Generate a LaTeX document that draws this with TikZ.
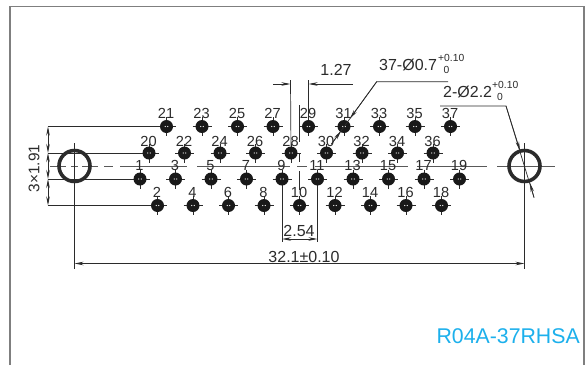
\documentclass[tikz,border=0pt]{standalone}
\usepackage{fontspec}
\setmainfont{Liberation Sans}
\usetikzlibrary{arrows.meta}
\definecolor{ink}{HTML}{2B2B2B}
\definecolor{framegray}{HTML}{7F7F7F}
\definecolor{cyanlabel}{HTML}{1CB0EC}
\tikzset{
  pinhole/.style={circle,fill=black!90,inner sep=0pt,minimum size=13pt},
  pintick/.style={draw=ink,line width=0.6pt},
  pindot/.style={fill=white,draw=none},
  pinnum/.style={text=ink,font=\fontsize{14.6}{15}\selectfont,inner sep=0pt},
  dimtext/.style={text=ink,font=\fontsize{16}{16}\selectfont,inner sep=0pt},
  tol/.style={text=ink,font=\fontsize{10.3}{11}\selectfont,inner sep=0pt},
  dimline/.style={draw=ink,line width=0.7pt},
  centerline/.style={draw=black!65,line width=0.8pt},
  tip/.style={-{Stealth[length=9pt,width=3.5pt]}},
  twotip/.style={{Stealth[length=9pt,width=3.5pt]}-{Stealth[length=9pt,width=3.5pt]}},
  mounthole/.style={circle,draw=ink,line width=3.6pt,inner sep=0pt,minimum size=31pt},
}
\newcommand{\pinrow}[3]{%
  \foreach \n/\xx in {#1}{%
    \draw[pintick] (\xx-9.5,#2) -- (\xx+9.5,#2) (\xx,#2-9.5) -- (\xx,#2+9.5);
    \node[pinhole] (p\n) at (\xx,#2) {};
    \fill[pindot] (\xx-1.3,#2) circle (0.6);
    \fill[pindot] (\xx+1.3,#2) circle (0.6);
    \node[pinnum] (t\n) at (\xx-0.5,#2-#3) {\n};
  }%
}
\begin{document}
\begin{tikzpicture}[x=1pt,y=-1pt]
\useasboundingbox (0,0) rectangle (588,365);
\fill[white] (0,0) rectangle (588,365);
% frame
\draw[framegray,line width=1.3pt] (10,365) -- (10,6.5) -- (584,6.5) -- (584,365);
% centre lines
\foreach \a/\b in {50/66,71/78,82/98,104/113,120/187,197/290,297/307,315/408,417/487,497/555}
  \draw[centerline] (\a,166) -- (\b,166);
\foreach \a/\b in {105/142,153/162,171/190}
  \draw[dimline] (299.5,\a) -- (299.5,\b);
% mounting holes
\node[mounthole] (mL) at (74.5,166) {};
\node[mounthole] (mR) at (524.5,166) {};
\coordinate (mLt) at (74.5,143);
\coordinate (mRt) at (524.5,143);
\coordinate (mLb) at (74.5,269);
\coordinate (mRb) at (524.5,269);
\draw[dimline] (mLt) -- (mLb);
\draw[dimline] (mRt) -- (mRb);
% pins
\pinrow{21/166.5,23/202,25/237.5,27/273,29/308.5,31/344,33/379.5,35/415,37/450.5}{126.5}{13.5}
\pinrow{20/149,22/184.5,24/220,26/255.5,28/291,30/326.5,32/362,34/397.5,36/433}{153}{11.5}
\pinrow{1/140,3/175.5,5/211,7/246.5,9/282,11/317.5,13/353,15/388.5,17/424,19/459.5}{179}{13.5}
\pinrow{2/157.5,4/193,6/228.5,8/264,10/299.5,12/335,14/370.5,16/406,18/441.5}{205.5}{13.5}
% 3x1.91
\coordinate (a1) at (48,126.5);
\coordinate (a2) at (48,153);
\coordinate (a3) at (48,179);
\coordinate (a4) at (48,205.5);
\draw[dimline] (a1) -- (p21);
\draw[dimline] (a2) -- (p20);
\draw[dimline] (a3) -- (p1);
\draw[dimline] (a4) -- (p2);
\draw[dimline,twotip] (a1) -- (a2);
\draw[dimline,twotip] (a2) -- (a3);
\draw[dimline,twotip] (a3) -- (a4);
\node[dimtext,font=\fontsize{15.4}{16}\selectfont,rotate=90] (d391) at (34,168.5) {3×1.91};
% 1.27
\coordinate (b1) at (290.5,80);
\coordinate (b2) at (308.5,80);
\coordinate (b1a) at (273,84);
\coordinate (b1b) at (290.5,84);
\coordinate (b2a) at (352.5,84);
\coordinate (b2b) at (308.5,84);
\draw[dimline] (b1) -- (p28);
\draw[dimline] (b2) -- (p29);
\draw[dimline,tip] (b1a) -- (b1b);
\draw[dimline,tip] (b2a) -- (b2b);
\node[dimtext] (d127) at (336,70) {1.27};
% 2.54
\coordinate (c1) at (282,242);
\coordinate (c2) at (317.5,242);
\coordinate (c1a) at (282,239);
\coordinate (c2a) at (317.5,239);
\draw[dimline] (p9) -- (c1);
\draw[dimline] (p11) -- (c2);
\draw[dimline,twotip] (c1a) -- (c2a);
\node[dimtext] (d254) at (299,231) {2.54};
% 32.1
\coordinate (e1) at (74.5,263.5);
\coordinate (e2) at (524.5,263.5);
\draw[dimline,twotip] (e1) -- (e2);
\node[dimtext] (d321) at (304,257) {32.1±0.10};
% leaders
\coordinate (f1) at (448,81.7);
\coordinate (f2) at (376.7,81.7);
\coordinate (f3) at (350,118.5);
\coordinate (f4) at (331.5,144);
\coordinate (f5) at (341,131);
\draw[dimline] (f1) -- (f2) -- (f4);
\draw[dimline,tip] (f2) -- (f3);
\draw[dimline,tip] (f4) -- (f5);
\node[dimtext,anchor=west] (l37) at (379,65) {37-Ø0.7};
\node[tol,anchor=west] (l37a) at (438,57.5) {+0.10};
\node[tol] (l37b) at (446.5,70) {0};
\coordinate (g1) at (440,106);
\coordinate (g2) at (506,106);
\coordinate (g3) at (534,197.5);
\coordinate (g4) at (520,150.5);
\coordinate (g5) at (530,183);
\draw[dimline] (g1) -- (g2) -- (g3);
\draw[dimline,tip] (g2) -- (g4);
\draw[dimline,tip] (g3) -- (g5);
\node[dimtext,anchor=west] (l2) at (443,92) {2-Ø2.2};
\node[tol,anchor=west] (l2a) at (492,85) {+0.10};
\node[tol] (l2b) at (500,97) {0};
% title
\node[text=cyanlabel,font=\fontsize{21.3}{22}\selectfont,inner sep=0pt,anchor=east] (title) at (580,336) {R04A-37RHSA};
\end{tikzpicture}
\end{document}
